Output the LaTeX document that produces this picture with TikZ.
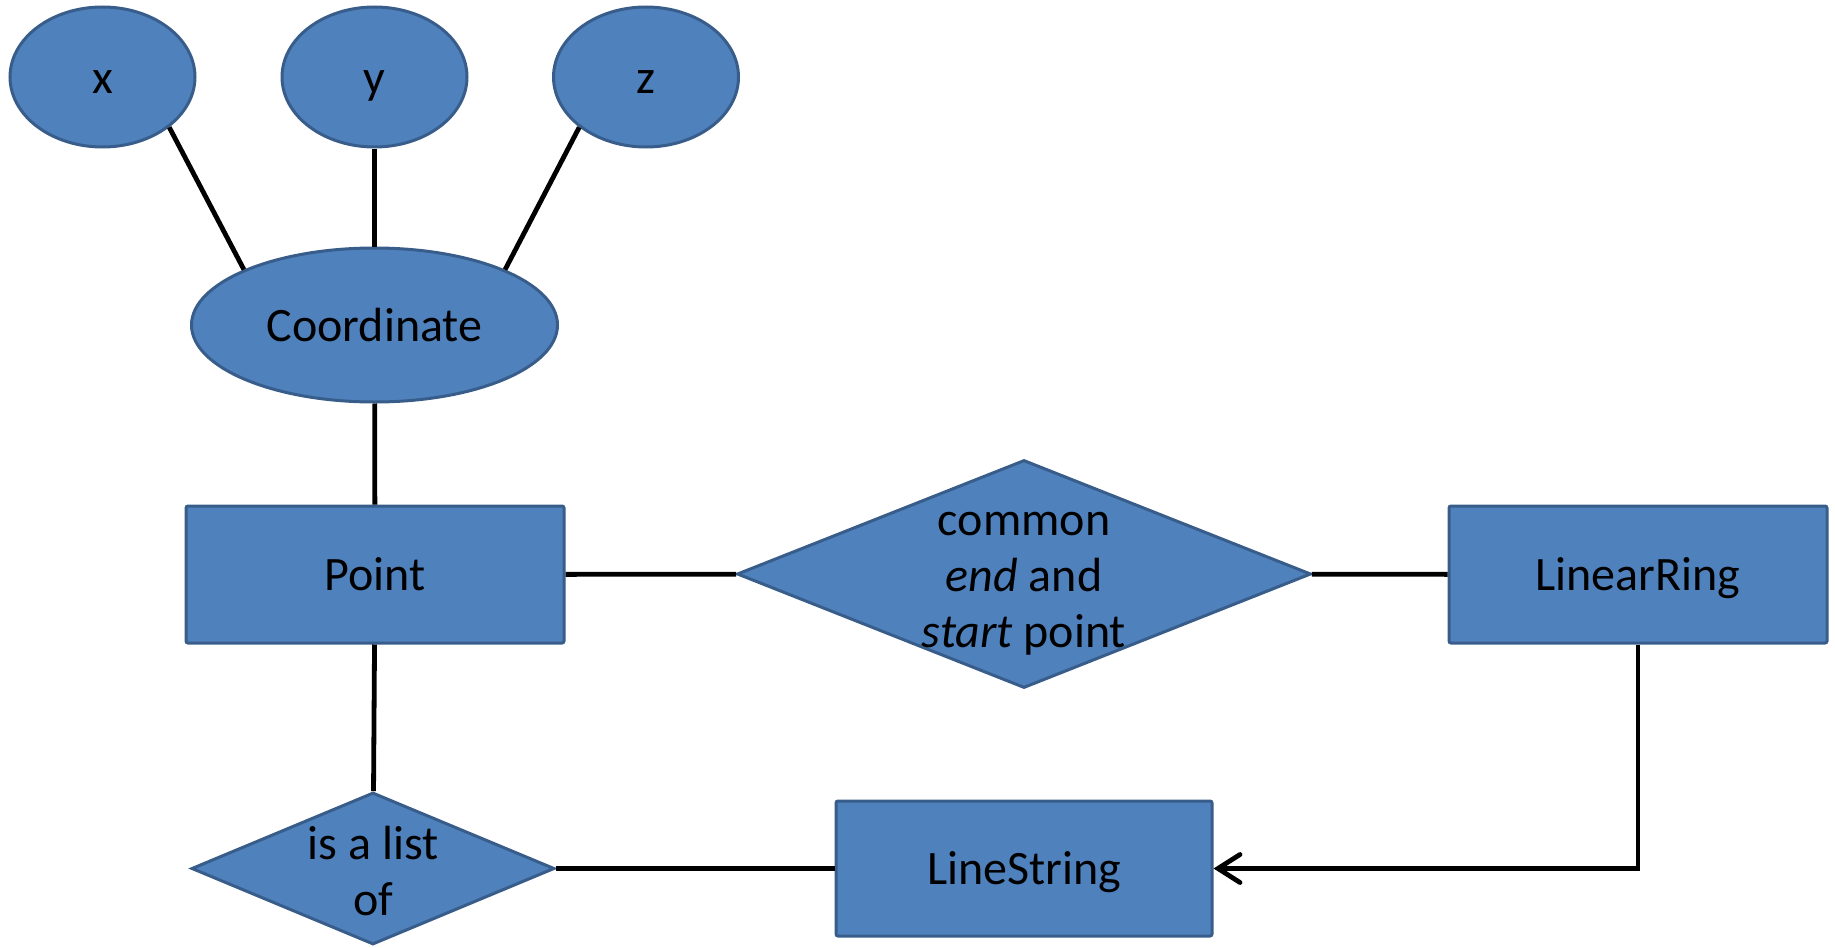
\documentclass[tikz,border=0pt]{standalone}
\usepackage{fontspec}
\setmainfont{Carlito}
\usetikzlibrary{shapes.geometric,arrows.meta}
\definecolor{fillblue}{HTML}{4F81BD}
\definecolor{edgeblue}{HTML}{385D8A}
\tikzset{
  base/.style={draw=edgeblue, line width=1.5pt, fill=fillblue, inner sep=0pt,
    font=\fontsize{24}{28}\selectfont, text=black},
  onel/.style={text height=22.85pt, text depth=6.46pt},
  attr/.style={base, onel, ellipse},
  entity/.style={base, onel, rectangle, rounded corners=1pt},
  rel/.style={base, diamond},
  conn/.style={line width=2.4pt, black},
}
\begin{document}
\begin{tikzpicture}[x=0.5pt,y=-0.5pt]
\useasboundingbox (0,0) rectangle (1835,947);
\node[attr, minimum width=92.5pt, minimum height=70pt] (x) at (102.5,77) {x};
\node[attr, minimum width=92.5pt, minimum height=70pt] (y) at (374.5,77) {y};
\node[attr, minimum width=92.5pt, minimum height=70pt] (z) at (646,77) {z};
\node[attr, minimum width=183pt, minimum height=77pt] (coord) at (374.5,325) {Coordinate};
\node[entity, minimum width=189pt, minimum height=68.5pt] (point) at (375,574.5) {Point};
\node[entity, minimum width=189pt, minimum height=68.5pt] (ring) at (1638,574.5) {LinearRing};
\node[entity, minimum width=188pt, minimum height=67.5pt] (line) at (1024,868.5) {LineString};
\node[rel, minimum width=287pt, minimum height=114pt,
  label={[font=\fontsize{24}{28}\selectfont, align=center, yshift=-4.7pt]center:common\\\textit{end} and\\\textit{start} point}] (common) at (1024,574) {};
\node[rel, minimum width=181.5pt, minimum height=76pt,
  label={[font=\fontsize{24}{28}\selectfont, align=center, yshift=-1.2pt]center:is a list\\of}] (list) at (373,868.5) {};
\draw[conn] (x.-37) -- (coord.157);
\draw[conn] (z.217) -- (coord.23);
\draw[conn] (y) -- (coord);
\draw[conn] (coord) -- (point);
\draw[conn] (point) -- (common);
\draw[conn] (common) -- (ring);
\draw[conn] (point) -- (list);
\draw[conn] (list) -- (line);
\draw[conn, -{Straight Barb[length=11pt,width=14pt,line cap=round]}] (ring.south) |- (line.east);
\end{tikzpicture}
\end{document}
